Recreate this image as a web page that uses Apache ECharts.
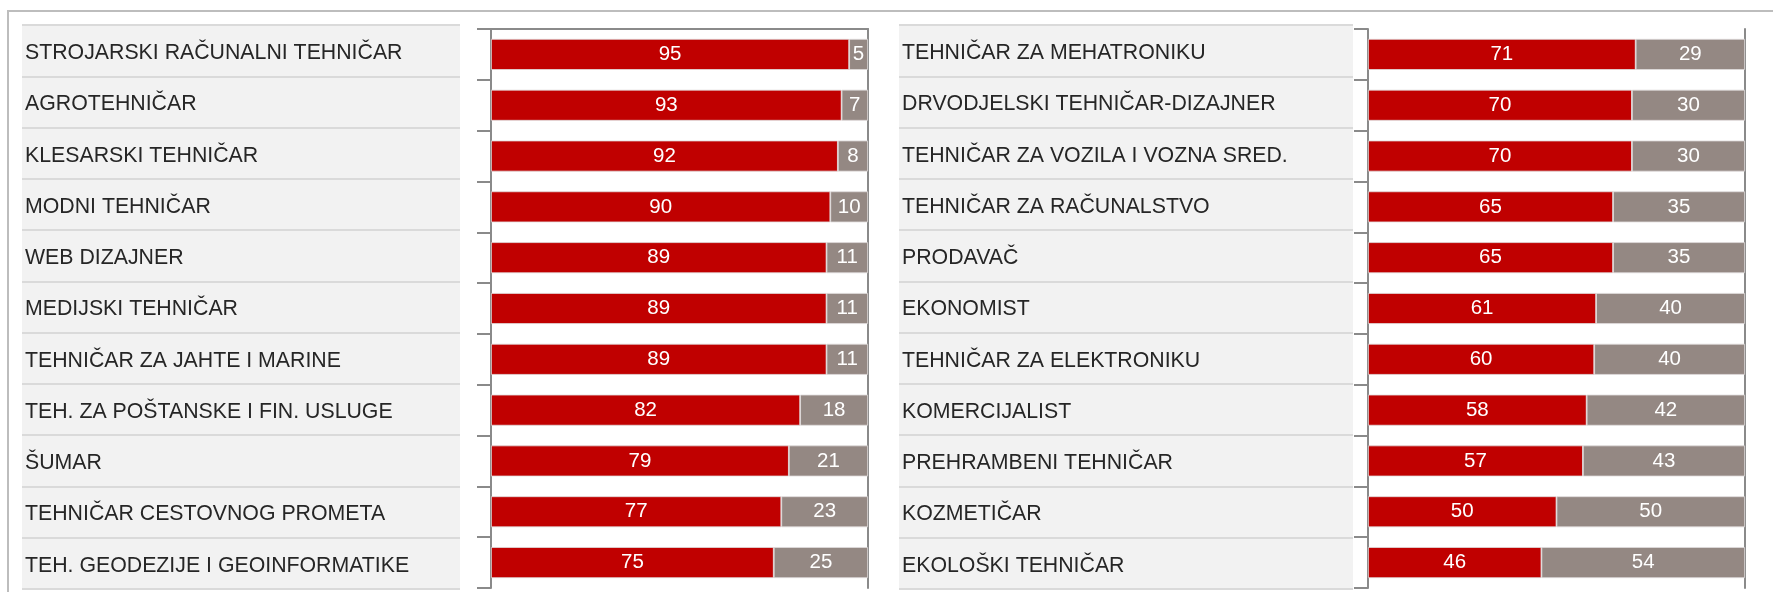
<!DOCTYPE html>
<html>
<head>
<meta charset="utf-8">
<title>chart</title>
<script src="https://cdn.jsdelivr.net/npm/echarts@6/dist/echarts.min.js"></script>
<style>
  html, body { margin: 0; padding: 0; background: #fff; }
  #main { width: 1773px; height: 592px; }
</style>
</head>
<body>
<div id="main"></div>
<script>
// lijevi stupac
const leftNames = [
  'STROJARSKI RAČUNALNI TEHNIČAR', 'AGROTEHNIČAR', 'KLESARSKI TEHNIČAR', 'MODNI TEHNIČAR',
  'WEB DIZAJNER', 'MEDIJSKI TEHNIČAR', 'TEHNIČAR ZA JAHTE I MARINE', 'TEH. ZA POŠTANSKE I FIN. USLUGE',
  'ŠUMAR', 'TEHNIČAR CESTOVNOG PROMETA', 'TEH. GEODEZIJE I GEOINFORMATIKE'
]
const leftRed = [95, 93, 92, 90, 89, 89, 89, 82, 79, 77, 75]
const leftGrey = [5, 7, 8, 10, 11, 11, 11, 18, 21, 23, 25]

// desni stupac
const rightNames = [
  'TEHNIČAR ZA MEHATRONIKU', 'DRVODJELSKI TEHNIČAR-DIZAJNER', 'TEHNIČAR ZA VOZILA I VOZNA SRED.',
  'TEHNIČAR ZA RAČUNALSTVO', 'PRODAVAČ', 'EKONOMIST', 'TEHNIČAR ZA ELEKTRONIKU', 'KOMERCIJALIST',
  'PREHRAMBENI TEHNIČAR', 'KOZMETIČAR', 'EKOLOŠKI TEHNIČAR'
]
const rightRed = [71, 70, 70, 65, 65, 60.5, 60, 58, 57, 50, 46]
const rightGrey = [29, 30, 30, 35, 35, 39.5, 40, 42, 43, 50, 54]

const RED = '#c00000'
const GREY = '#948883'
const AXIS = '#8a8a8a'
const FONT = 'Liberation Sans, Arial, sans-serif'

function labelAxis(names, gridIndex) {
  return {
    type: 'category', gridIndex: gridIndex, inverse: true, data: names,
    axisLine: { show: false }, axisTick: { show: false },
    axisLabel: {
      inside: true, margin: 3,
      formatter: v => '{n|' + v + '}',
      rich: {
        n: { fontSize: 21.3, color: '#262626', fontFamily: FONT, padding: [5, 0, 0, 0] }
      }
    },
    splitLine: { show: true, lineStyle: { color: '#dadada', width: 2 } },
    splitArea: { show: true, areaStyle: { color: ['#f2f2f2'] } }
  }
}

function barAxis(names, gridIndex) {
  return {
    type: 'category', gridIndex: gridIndex, inverse: true, data: names,
    axisLine: { show: true, lineStyle: { color: AXIS, width: 2 } },
    axisTick: { show: true, length: 14, lineStyle: { color: AXIS, width: 2 } },
    axisLabel: { show: false }
  }
}

function edgeAxis(names, gridIndex) {
  return {
    type: 'category', gridIndex: gridIndex, inverse: true, data: names, position: 'right',
    axisLine: { show: true, lineStyle: { color: AXIS, width: 2 } },
    axisTick: { show: false }, axisLabel: { show: false }
  }
}

function valueAxis(gridIndex, topLine) {
  return {
    type: 'value', gridIndex: gridIndex, min: 0, max: 100, position: 'top',
    axisLine: { show: topLine, lineStyle: { color: AXIS, width: 2 } },
    axisTick: { show: false }, axisLabel: { show: false }, splitLine: { show: false }
  }
}

function barSeries(data, color, xIndex, yIndex, stack) {
  return {
    type: 'bar', stack: stack, data: data, xAxisIndex: xIndex, yAxisIndex: yIndex,
    barWidth: '61%',
    itemStyle: { color: color, borderColor: '#e0dcdc', borderWidth: 0.8 },
    label: {
      show: true, position: 'inside', color: '#fff', fontSize: 20.5, fontFamily: FONT,
      formatter: p => Math.round(p.value)
    },
    emphasis: { disabled: true },
    silent: true
  }
}

const chart = echarts.init(document.getElementById('main'), null, { renderer: 'canvas' })
chart.setOption({
  animation: false,
  backgroundColor: '#fff',
  grid: [
    { left: 22, top: 25, width: 438, height: 564 },
    { left: 491, top: 29, width: 377, height: 559 },
    { left: 899, top: 25, width: 454, height: 564 },
    { left: 1368, top: 29, width: 377, height: 559 }
  ],
  xAxis: [
    { type: 'value', gridIndex: 0, min: 0, max: 1, show: false },
    valueAxis(1, true),
    { type: 'value', gridIndex: 2, min: 0, max: 1, show: false },
    valueAxis(3, false)
  ],
  yAxis: [
    labelAxis(leftNames, 0),
    barAxis(leftNames, 1),
    edgeAxis(leftNames, 1),
    labelAxis(rightNames, 2),
    barAxis(rightNames, 3),
    edgeAxis(rightNames, 3)
  ],
  series: [
    barSeries(leftRed, RED, 1, 1, 'left'),
    barSeries(leftGrey, GREY, 1, 1, 'left'),
    barSeries(rightRed, RED, 3, 4, 'right'),
    barSeries(rightGrey, GREY, 3, 4, 'right')
  ],
  graphic: [
    {
      type: 'polyline', silent: true,
      shape: { points: [[8, 592], [8, 11], [1773, 11]] },
      style: { stroke: '#bdbdbd', lineWidth: 2, fill: null }
    }
  ]
})
</script>
</body>
</html>
